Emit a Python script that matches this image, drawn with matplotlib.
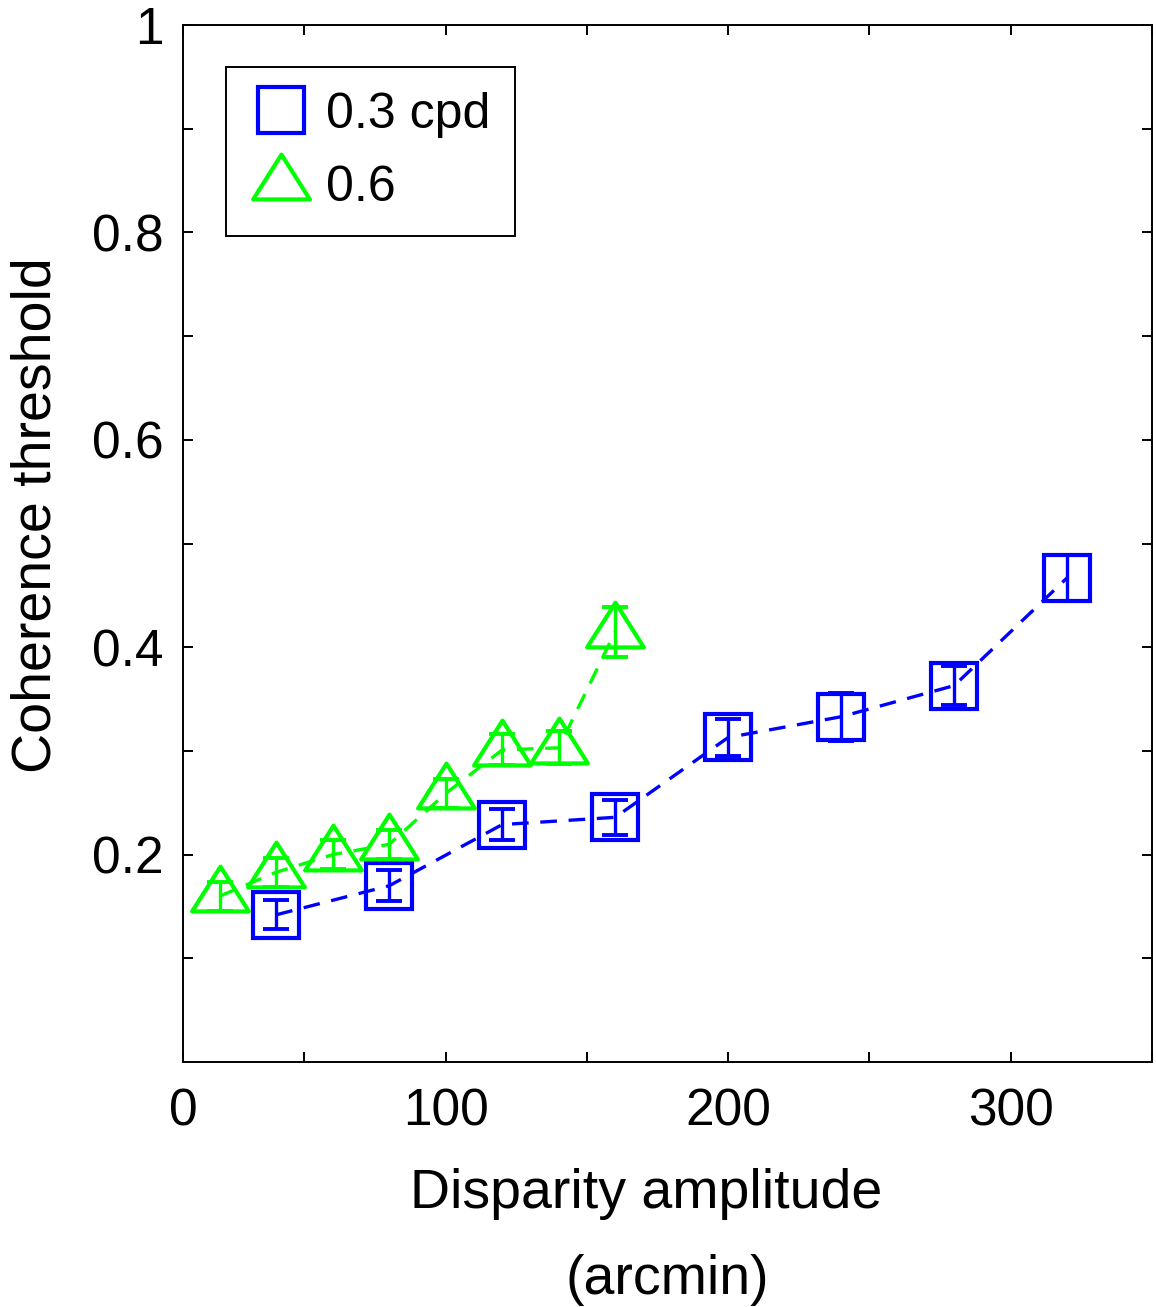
import numpy as np
import matplotlib
matplotlib.use("Agg")
import matplotlib.pyplot as plt
from matplotlib.path import Path

plt.rcParams['font.family'] = ['Liberation Sans', 'DejaVu Sans']

# disparity amplitude (arcmin) and coherence thresholds
x_03 = [40, 80, 120, 160, 200, 240, 280, 320]
y_03 = [0.142, 0.170, 0.229, 0.236, 0.313, 0.333, 0.363, 0.467]
e_03 = [0.014, 0.015, 0.015, 0.017, 0.018, 0.023, 0.019, 0.022]

x_06 = [20, 40, 60, 80, 100, 120, 140, 160]
y_06 = [0.160, 0.183, 0.200, 0.210, 0.259, 0.301, 0.303, 0.415]
e_06 = [0.014, 0.014, 0.014, 0.014, 0.014, 0.015, 0.016, 0.024]

labels = ['0.3 cpd', '0.6']
blue = (0, 0, 1)
green = (0, 1, 0)

# triangle with centroid at the data point (MATLAB style)
tri = Path([(0, 2), (-1.9, -1), (1.9, -1), (0, 2)],
           [Path.MOVETO, Path.LINETO, Path.LINETO, Path.CLOSEPOLY])

fig = plt.figure(figsize=(11.56, 13.07), dpi=100)
ax = fig.add_axes([0.1583, 0.1874, 0.9965 - 0.1583, 0.9809 - 0.1874])

ax.plot(x_03, y_03, '--', color=blue, lw=2.4, dashes=(5, 3.5))
ax.plot(x_06, y_06, '--', color=green, lw=2.4, dashes=(5, 3.5))
ax.errorbar(x_03, y_03, yerr=e_03, fmt='none', ecolor=blue, elinewidth=2.4,
            capsize=9.5, capthick=2.8)
ax.errorbar(x_06, y_06, yerr=e_06, fmt='none', ecolor=green, elinewidth=2.4,
            capsize=9.5, capthick=2.8)
h1, = ax.plot(x_03, y_03, 's', ms=32.5, mfc='none', mec=blue, mew=3,
              label=labels[0])
h2, = ax.plot(x_06, y_06, marker=tri, ls='none', ms=43, mfc='none', mec=green,
              mew=3, label=labels[1])

ax.set_xlim(7, 350)
ax.set_ylim(0, 1)
ax.set_xticks([7, 50, 100, 150, 200, 250, 300, 350])
ax.set_xticklabels(['0', '', '100', '', '200', '', '300', ''])
ax.set_yticks(np.arange(0.1, 1.01, 0.1))
ax.set_yticklabels(['', '0.2', '', '0.4', '', '0.6', '', '0.8', '', '1'])
ax.tick_params(direction='in', length=7, width=1.4, top=True, right=True,
               labelsize=37, pad=14)
ax.tick_params(axis='x', pad=18)
for s in ax.spines.values():
    s.set_linewidth(1.4)

ax.text(0.478, -0.127, 'Disparity amplitude', transform=ax.transAxes,
        ha='center', va='center', fontsize=40)
ax.text(0.5, -0.21, '(arcmin)', transform=ax.transAxes,
        ha='center', va='center', fontsize=40)
fig.text(0.032, 0.606, 'Coherence threshold', rotation=90, ha='center',
         va='center', fontsize=40)

leg = ax.legend(handles=[h1, h2], loc='upper left', fontsize=36,
                bbox_to_anchor=(0.0444, 0.9595), borderaxespad=0,
                frameon=True, fancybox=False, framealpha=1,
                edgecolor='black', markerscale=1, handletextpad=0.3,
                borderpad=0.5, labelspacing=0.55, handlelength=1.2)
leg.get_frame().set_linewidth(1.4)

fig.savefig('out.png', dpi=100)
